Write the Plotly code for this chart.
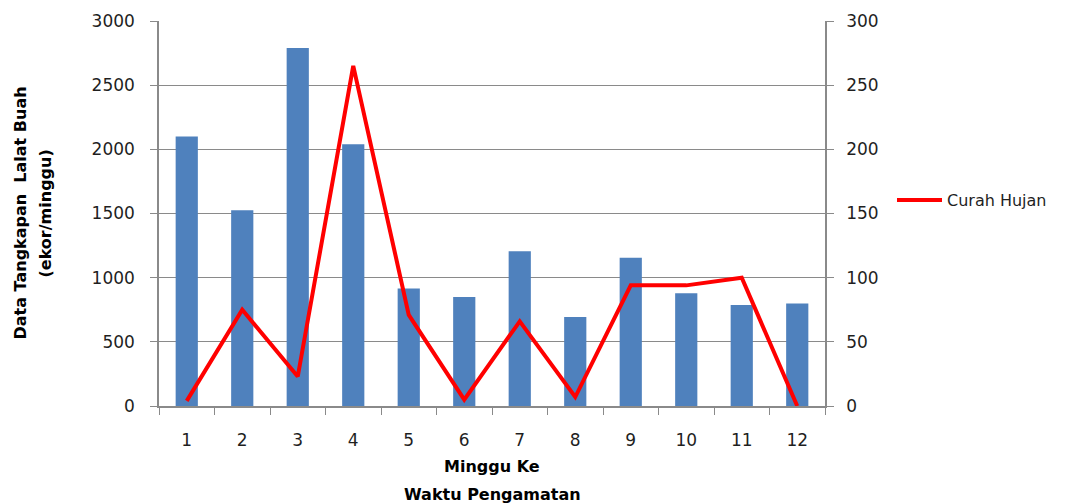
import plotly.graph_objects as go

weeks = ["1", "2", "3", "4", "5", "6", "7", "8", "9", "10", "11", "12"]
tangkapan = [2100, 1525, 2790, 2040, 915, 850, 1205, 693, 1155, 878, 787, 798]
curah_hujan = [4, 75, 23, 265, 71, 5, 66, 7, 94, 94, 100, 0]

FONT = "DejaVu Sans"
TXT = "#1f1f1f"
GRID = "#8a8a8a"

# page is rendered with an 8px body margin, so figure coords = page coords - 8
L, T, H = 151, 13, 385
W = 666

fig = go.Figure()
fig.add_trace(go.Bar(
    x=weeks, y=tangkapan, name="Data Tangkapan",
    marker=dict(color="#4f81bd", line=dict(width=0)),
    showlegend=False, yaxis="y",
))
fig.add_trace(go.Scatter(
    x=weeks, y=curah_hujan, name="Curah Hujan", mode="lines",
    line=dict(color="#ff0000", width=4), yaxis="y2",
))

fig.update_layout(
    width=1075, height=504,
    margin=dict(l=L, r=1075 - L - W, t=T, b=504 - T - H),
    paper_bgcolor="white", plot_bgcolor="white",
    bargap=0.6,
    font=dict(family=FONT, size=16, color=TXT),
    xaxis=dict(
        type="category", tickson="boundaries", ticks="outside", ticklen=7,
        tickcolor=GRID, showline=True, linecolor=GRID, linewidth=1.5,
        showgrid=False, ticklabelstandoff=18, automargin=False,
        tickfont=dict(family=FONT, size=17, color=TXT),
    ),
    yaxis=dict(
        range=[0, 3000], dtick=500, ticks="outside", ticklen=7, tickcolor=GRID,
        showline=True, linecolor=GRID, linewidth=1.5,
        showgrid=True, gridcolor=GRID, gridwidth=1.3, zeroline=False,
        ticklabelstandoff=12, automargin=False,
        tickfont=dict(family=FONT, size=17, color=TXT),
    ),
    yaxis2=dict(
        range=[0, 300], dtick=50, overlaying="y", side="right",
        ticks="outside", ticklen=7, tickcolor=GRID,
        showline=True, linecolor=GRID, linewidth=1.5,
        showgrid=False, zeroline=False, ticklabelstandoff=9, automargin=False,
        tickfont=dict(family=FONT, size=17, color=TXT),
    ),
    legend=dict(
        x=(884 - L) / W, y=(H - (200 - 8 - T)) / H,
        xanchor="left", yanchor="middle", itemwidth=45,
        font=dict(family=FONT, size=16, color=TXT), bgcolor="rgba(0,0,0,0)",
    ),
    annotations=[
        dict(text="<b>Data Tangkapan  Lalat Buah</b>",
             xref="paper", yref="paper", x=0, y=0.5, xshift=(20 - 8) - L,
             xanchor="center", yanchor="middle", textangle=-90, showarrow=False,
             font=dict(family=FONT, size=16, color="black")),
        dict(text="<b>(ekor/minggu)</b>",
             xref="paper", yref="paper", x=0, y=0.5, xshift=(45 - 8) - L,
             xanchor="center", yanchor="middle", textangle=-90, showarrow=False,
             font=dict(family=FONT, size=16, color="black")),
        dict(text="<b>Minggu Ke</b>", xref="paper", yref="paper", x=0.5, y=0,
             yshift=-(466 - 406), xanchor="center", yanchor="middle",
             showarrow=False, font=dict(family=FONT, size=16, color="black")),
        dict(text="<b>Waktu Pengamatan</b>", xref="paper", yref="paper", x=0.5, y=0,
             yshift=-(494 - 406), xanchor="center", yanchor="middle",
             showarrow=False, font=dict(family=FONT, size=16, color="black")),
    ],
)

fig.write_html("out.html")
